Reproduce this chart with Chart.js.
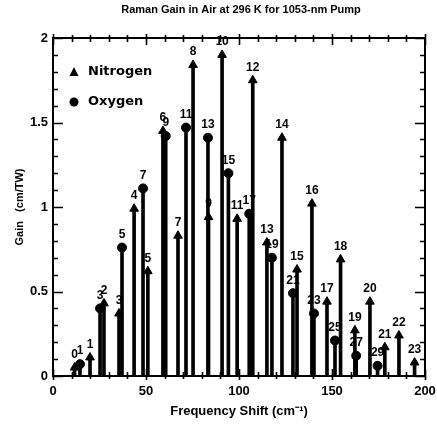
<!DOCTYPE html>
<html><head><meta charset="utf-8">
<script src="https://cdn.jsdelivr.net/npm/chart.js@4.4.0/dist/chart.umd.min.js"></script>
<style>html,body{margin:0;padding:0;background:#fff;overflow:hidden;}#wrap{width:437px;height:425px;position:relative;}</style>
</head><body><div id="wrap"><canvas id="c"></canvas></div>
<script>
const titleText = "Raman Gain in Air at 296 K for 1053-nm Pump";
const xTitle = "Frequency Shift (cm\u207B\u00B9)";
const yTitle = "Gain   (cm/TW)";
const legendNames = ["Nitrogen", "Oxygen"];

const nitrogenJ     = [0, 1, 2, 3, 4, 5, 6, 7, 8, 9, 10, 11, 12, 13, 14, 15, 16, 17, 18, 19, 20, 21, 22, 23];
const nitrogenShift = [11.6, 19.9, 27.4, 35.5, 43.6, 51.0, 59.1, 67.2, 75.3, 83.6, 90.9, 99.0, 107.4, 115.0, 123.1, 131.2, 139.2, 147.3, 154.6, 162.3, 170.4, 178.4, 186.0, 194.4];
const nitrogenGain  = [0.05, 0.11, 0.43, 0.37, 0.99, 0.62, 1.45, 0.83, 1.84, 0.94, 1.90, 0.93, 1.75, 0.79, 1.41, 0.63, 1.02, 0.44, 0.69, 0.27, 0.44, 0.17, 0.24, 0.08];

const oxygenN     = [1, 3, 5, 7, 9, 11, 13, 15, 17, 19, 21, 23, 25, 27, 29];
const oxygenShift = [14.5, 25.3, 37.1, 48.4, 60.6, 71.5, 83.3, 94.3, 105.5, 117.7, 129.0, 140.3, 151.6, 163.0, 174.5];
const oxygenGain  = [0.07, 0.40, 0.76, 1.11, 1.42, 1.47, 1.41, 1.20, 0.96, 0.70, 0.49, 0.37, 0.21, 0.12, 0.06];

const xTickValues = [0, 50, 100, 150, 200];
const yTickValues = [0, 0.5, 1, 1.5, 2];

const FONT = "'Liberation Sans', Arial, sans-serif";
const WIDE = "'DejaVu Sans', Verdana, sans-serif";
const pts = (xs, ys) => xs.map((x, i) => ({x: x, y: ys[i]}));
const nPts = pts(nitrogenShift, nitrogenGain);
const oPts = pts(oxygenShift, oxygenGain);

const framePlugin = {
  id: 'frame',
  afterDatasetsDraw(chart) {
    const {ctx, chartArea: a, scales: {x, y}} = chart;
    ctx.save();
    ctx.strokeStyle = '#000';
    ctx.fillStyle = '#000';
    ctx.lineWidth = 2;
    ctx.strokeRect(a.left, a.top, a.right - a.left, a.bottom - a.top);
    ctx.lineWidth = 1.6;
    ctx.beginPath();
    for (let k = 0; k <= 20; k++) {
      const v = k / 10;
      const py = Math.round(y.getPixelForValue(v)) + 0.5;
      const major = k % 5 === 0;
      const len = major ? 10 : 5;
      ctx.moveTo(a.left, py); ctx.lineTo(a.left + len, py);
      ctx.moveTo(a.right, py); ctx.lineTo(a.right - len, py);
    }
    for (let k = 0; k <= 20; k++) {
      const v = k * 10;
      const px = Math.round(x.getPixelForValue(v)) + 0.5;
      const major = k % 5 === 0;
      const inl = major ? 7 : 4, outl = major ? 4 : 3;
      ctx.moveTo(px, a.bottom + outl); ctx.lineTo(px, a.bottom - inl);
      ctx.moveTo(px, a.top - outl); ctx.lineTo(px, a.top + inl);
    }
    ctx.stroke();

    // point labels
    ctx.font = "bold 12px " + FONT;
    ctx.textAlign = 'center';
    ctx.textBaseline = 'middle';
    const labelSets = [[2, nitrogenJ], [3, oxygenN]];
    labelSets.forEach(([di, labs]) => {
      chart.getDatasetMeta(di).data.forEach((el, i) => {
        ctx.fillText(String(labs[i]), el.x, el.y - 13);
      });
    });

    // legend
    const lx = a.left + 21;
    const ly1 = a.top + 34, ly2 = a.top + 64;
    ctx.beginPath();
    ctx.moveTo(lx, ly1 - 5); ctx.lineTo(lx + 4.5, ly1 + 4); ctx.lineTo(lx - 4.5, ly1 + 4); ctx.closePath();
    ctx.fill();
    ctx.beginPath(); ctx.arc(lx, ly2, 4.5, 0, Math.PI * 2); ctx.fill();
    ctx.font = "bold 13px " + WIDE;
    ctx.textAlign = 'left';
    ctx.fillText(legendNames[0], lx + 14, ly1);
    ctx.fillText(legendNames[1], lx + 14, ly2);

    // title
    ctx.font = "bold 11px " + FONT;
    ctx.textAlign = 'center';
    ctx.fillText(titleText, (a.left + a.right) / 2 + 2, 10);
    ctx.restore();
  }
};

const tickFont = {family: FONT, size: 13, weight: 'bold'};
new Chart(document.getElementById('c'), {
  type: 'scatter',
  data: {
    datasets: [
      {type: 'bar', data: nPts, backgroundColor: '#000', borderWidth: 0, barThickness: 3, grouped: false, order: 2},
      {type: 'bar', data: oPts, backgroundColor: '#000', borderWidth: 0, barThickness: 3, grouped: false, order: 2},
      {type: 'scatter', data: nPts, pointStyle: 'triangle', pointRadius: 5, backgroundColor: '#000', borderColor: '#000', borderWidth: 1, order: 1},
      {type: 'scatter', data: oPts, pointStyle: 'circle', pointRadius: 4.5, backgroundColor: '#000', borderColor: '#000', borderWidth: 1, order: 1}
    ]
  },
  options: {
    responsive: true,
    maintainAspectRatio: false,
    animation: false,
    devicePixelRatio: 1,
    layout: {padding: {top: 38, right: 12, left: 0, bottom: 0}},
    plugins: {legend: {display: false}, tooltip: {enabled: false}, title: {display: false}},
    scales: {
      x: {
        type: 'linear', min: 0, max: 200, offset: false,
        afterBuildTicks: s => { s.ticks = xTickValues.map(v => ({value: v})); },
        ticks: {font: tickFont, color: '#000', padding: 8, maxRotation: 0, autoSkip: false, callback: v => String(v)},
        grid: {display: false, drawTicks: false},
        border: {display: false},
        title: {display: true, text: xTitle, color: '#000', font: {family: FONT, size: 13, weight: 'bold'}, padding: {top: 0, bottom: 6}},
        afterFit: s => { s.height = 49; s.paddingRight = 0; s.paddingLeft = 0; }
      },
      y: {
        type: 'linear', min: 0, max: 2,
        afterBuildTicks: s => { s.ticks = yTickValues.map(v => ({value: v})); },
        ticks: {font: tickFont, color: '#000', padding: 5, autoSkip: false, callback: v => String(v)},
        grid: {display: false, drawTicks: false},
        border: {display: false},
        title: {display: true, text: yTitle, color: '#000', font: {family: FONT, size: 11, weight: 'bold'}, padding: {top: 13, bottom: 0}},
        afterFit: s => { s.width = 53; s.paddingTop = 0; s.paddingBottom = 0; }
      }
    }
  },
  plugins: [framePlugin]
});
</script></body></html>
